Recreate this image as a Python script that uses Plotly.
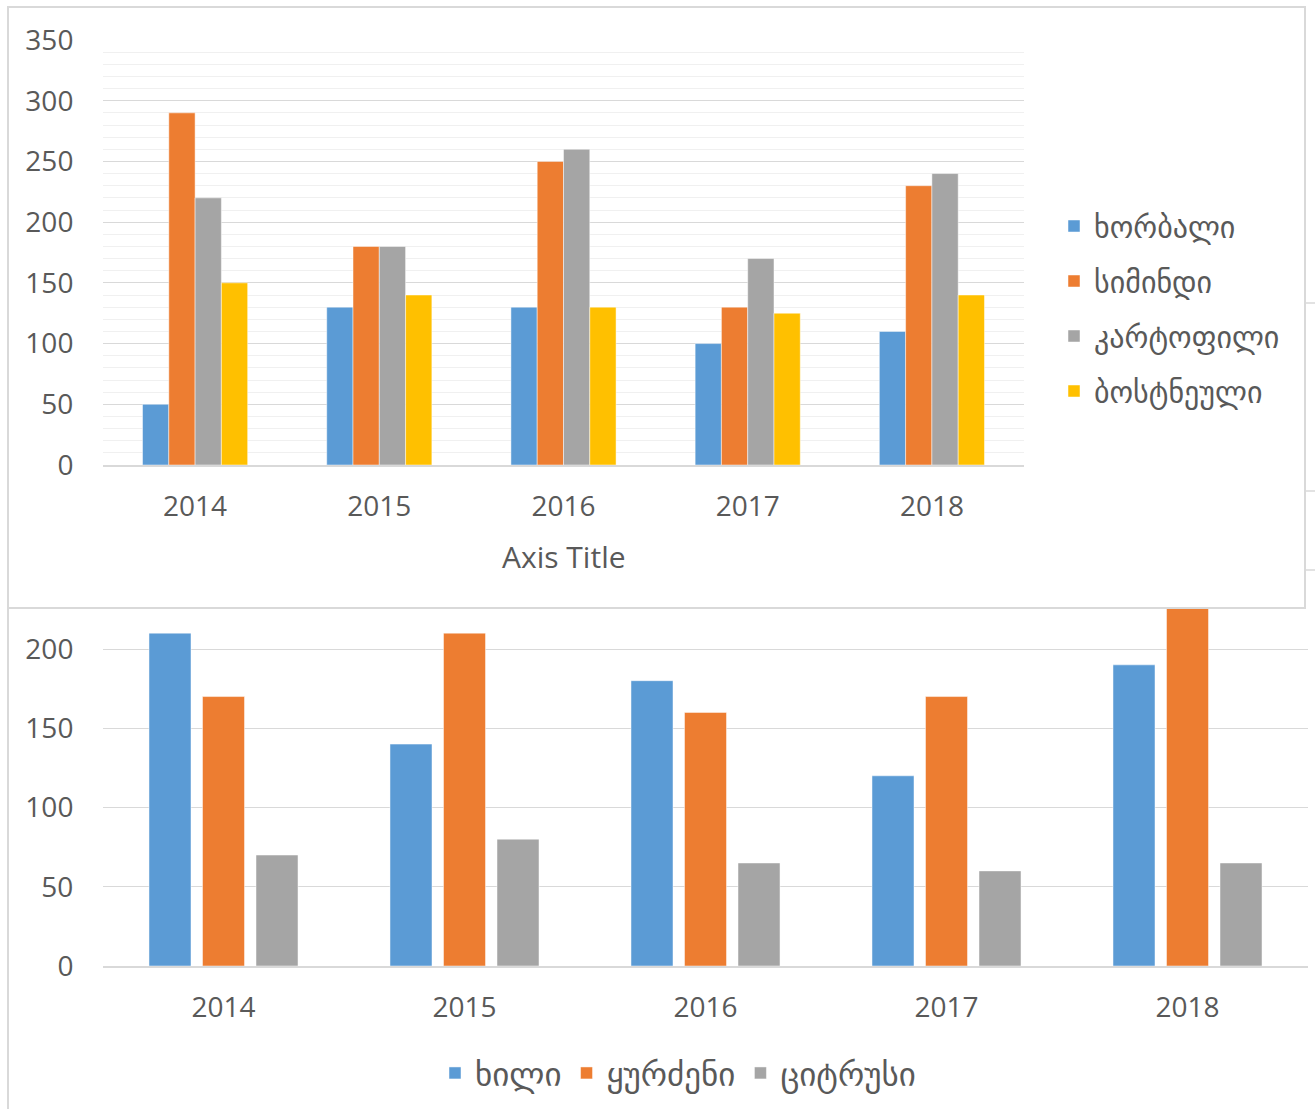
import plotly.graph_objects as go

W, H = 1315, 1109

# ---------------- data ----------------
years = ['2014', '2015', '2016', '2017', '2018']

# top chart
top_names = ['ხორბალი', 'სიმინდი', 'კარტოფილი', 'ბოსტნეული']
wheat = [50, 130, 130, 100, 110]
corn = [290, 180, 250, 130, 230]
potato = [220, 180, 260, 170, 240]
vegetables = [150, 140, 130, 125, 140]

# bottom chart
bottom_names = ['ხილი', 'ყურძენი', 'ციტრუსი']
fruit = [210, 140, 180, 120, 190]
grapes = [170, 210, 160, 170, 240]
citrus = [70, 80, 65, 60, 65]

top_ticks = [0, 50, 100, 150, 200, 250, 300, 350]
bottom_ticks = [0, 50, 100, 150, 200]

# ---------------- style ----------------
C_BLUE, C_ORANGE, C_GRAY, C_YELLOW = '#5B9BD5', '#ED7D31', '#A5A5A5', '#FFC000'
TXT = '#595959'
FONT = 'Open Sans, DejaVu Sans, sans-serif'


def px(x):
    return x / W


def py(y):
    return 1 - y / H


fig = go.Figure()

top_series = [wheat, corn, potato, vegetables]
top_colors = [C_BLUE, C_ORANGE, C_GRAY, C_YELLOW]
wt = 0.1427
for i, (name, vals, col) in enumerate(zip(top_names, top_series, top_colors)):
    fig.add_trace(go.Bar(
        x=years, y=vals, name=name,
        marker=dict(color=col, line=dict(color='rgba(255,255,255,0.6)', width=0.8)),
        width=wt, offset=(i - 2) * wt, xaxis='x', yaxis='y',
        legend='legend', legendgroup='t%d' % i,
    ))

bottom_series = [fruit, grapes, citrus]
bottom_colors = [C_BLUE, C_ORANGE, C_GRAY]
wb = 0.1743
sp = 0.222
for i, (name, vals, col) in enumerate(zip(bottom_names, bottom_series, bottom_colors)):
    fig.add_trace(go.Bar(
        x=years, y=vals, name=name,
        marker=dict(color=col, line=dict(color='rgba(255,255,255,0.6)', width=0.8)),
        width=wb, offset=(i - 1) * sp - wb / 2, xaxis='x2', yaxis='y2',
        legend='legend2',
    ))

tickfont = dict(family=FONT, size=28, color=TXT)

fig.update_layout(
    template='none',
    width=W, height=H, autosize=False,
    margin=dict(l=0, r=0, t=0, b=0, pad=0, autoexpand=False),
    paper_bgcolor='white', plot_bgcolor='rgba(0,0,0,0)',
    barmode='overlay',
    font=dict(family=FONT, color=TXT),
    xaxis=dict(
        domain=[px(103), px(1024)], anchor='y', type='category', range=[-0.5, 4.5],
        showline=True, linecolor='#d9d9d9', linewidth=1.5, showgrid=False, automargin=False,
        ticks='outside', ticklen=16, tickcolor='rgba(0,0,0,0)', tickfont=tickfont,
    ),
    yaxis=dict(
        domain=[py(465), py(40)], anchor='x', range=[0, 350], tickvals=top_ticks,
        showgrid=True, gridcolor='#d9d9d9', gridwidth=1.3, zeroline=False, automargin=False,
        minor=dict(dtick=10, showgrid=True, gridcolor='#f0f0f0', gridwidth=1.3),
        ticks='outside', ticklen=23, tickcolor='rgba(0,0,0,0)', tickfont=tickfont,
    ),
    xaxis2=dict(
        domain=[px(103), px(1308)], anchor='y2', type='category', range=[-0.5, 4.5],
        showline=True, linecolor='#d9d9d9', linewidth=1.5, showgrid=False, automargin=False,
        ticks='outside', ticklen=16, tickcolor='rgba(0,0,0,0)', tickfont=tickfont,
    ),
    yaxis2=dict(
        domain=[py(966), py(608)], anchor='x2', range=[0, (966 - 608) / 317 * 200],
        tickvals=bottom_ticks,
        showgrid=True, gridcolor='#d9d9d9', gridwidth=1.3, zeroline=False, automargin=False,
        ticks='outside', ticklen=23, tickcolor='rgba(0,0,0,0)', tickfont=tickfont,
    ),
    legend=dict(
        x=px(1054), y=py(200), xanchor='left', yanchor='top',
        font=dict(family=FONT, size=30, color=TXT), tracegroupgap=13,
        bgcolor='rgba(0,0,0,0)', borderwidth=0,
    ),
    legend2=dict(
        orientation='h', x=px(678), y=py(1073), xanchor='center', yanchor='middle',
        font=dict(family=FONT, size=33, color=TXT), bgcolor='rgba(0,0,0,0)', borderwidth=0,
    ),
    annotations=[dict(
        text='Axis Title', x=px(564), y=py(556), xref='paper', yref='paper',
        showarrow=False, font=dict(family=FONT, size=30, color=TXT),
        xanchor='center', yanchor='middle',
    )],
    shapes=[
        dict(type='rect', xref='paper', yref='paper', x0=px(8), x1=px(1305), y0=py(608), y1=py(7),
             line=dict(color='#d9d9d9', width=2), fillcolor='rgba(0,0,0,0)', layer='above'),
        dict(type='line', xref='paper', yref='paper', x0=px(8), x1=px(8), y0=py(608), y1=py(1109),
             line=dict(color='#d9d9d9', width=2)),
        dict(type='line', xref='paper', yref='paper', x0=px(1305), x1=px(1315), y0=py(303), y1=py(303),
             line=dict(color='#d9d9d9', width=1.5)),
        dict(type='line', xref='paper', yref='paper', x0=px(1305), x1=px(1315), y0=py(491), y1=py(491),
             line=dict(color='#d9d9d9', width=1.5)),
        dict(type='line', xref='paper', yref='paper', x0=px(1305), x1=px(1315), y0=py(570), y1=py(570),
             line=dict(color='#d9d9d9', width=1.5)),
    ],
)

fig.write_html('out.html', config={'displayModeBar': False},
               post_script="document.body.style.margin='0';document.body.style.overflow='hidden';")
